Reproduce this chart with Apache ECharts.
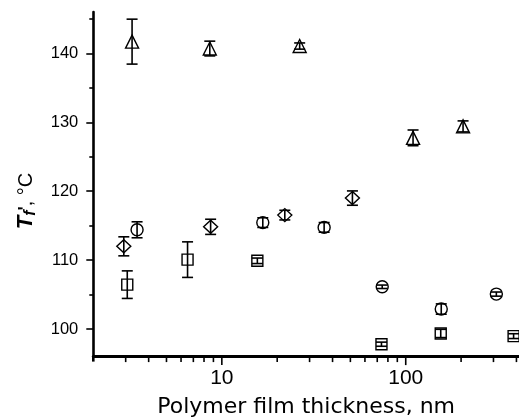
<!DOCTYPE html>
<html>
<head>
<meta charset="utf-8">
<script src="https://cdn.jsdelivr.net/npm/echarts@6/dist/echarts.min.js"></script>
<style>
  html, body { margin: 0; padding: 0; background: #fff; }
  #chart { width: 519px; height: 418px; }
</style>
</head>
<body>
<div id="chart"></div>
<script>
// Film thickness (nm), Tf' (°C) and error half-widths for the four sample sets
const triThickness = [3.25, 8.6, 26.5, 109.6, 205];
const triTf        = [141.7, 140.7, 141.06, 127.74, 129.4];
const triErr       = [3.26, 1.07, 0.45, 1.14, 0.8];

const diaThickness = [2.93, 8.69, 22.0, 51.3];
const diaTf        = [112.0, 114.83, 116.53, 119.0];
const diaErr       = [1.38, 1.1, 0.7, 1.04];

const cirThickness = [3.46, 16.7, 36.0, 74.5, 156, 311];
const cirTf        = [114.4, 115.44, 114.75, 106.13, 102.9, 105.07];
const cirErr       = [1.16, 0.7, 0.7, 0.25, 0.75, 0.3];

const sqThickness  = [3.06, 6.51, 15.6, 73.8, 155, 386];
const sqTf         = [106.44, 110.07, 109.9, 97.8, 99.36, 98.97];
const sqErr        = [2.0, 2.58, 0.4, 0.3, 0.6, 0.35];

// Axis ticks
const xMajorTicks = [10, 100];
const xMinorTicks = [3, 4, 5, 6, 7, 8, 9, 20, 30, 40, 50, 60, 70, 80, 90, 200, 300, 400];
const yMajorTicks = [100, 110, 120, 130, 140];
const yMinorTicks = [105, 115, 125, 135, 145];

const X_MIN = 2, X_MAX = 413, Y_MIN = 96, Y_MAX = 146;
const INK = '#000';

function points(xs, ys) { return xs.map((x, i) => [x, ys[i]]); }
function bars(xs, ys, es) { return xs.map((x, i) => [x, ys[i], es[i]]); }

// Vertical error bar with caps, drawn through the axes' scales
function renderErrorBar(params, api) {
  const x = api.value(0), y = api.value(1), e = api.value(2);
  const top = api.coord([x, y + e]);
  const bot = api.coord([x, y - e]);
  const hw = 5.5;
  const st = { stroke: INK, lineWidth: 1.6 };
  return {
    type: 'group',
    children: [
      { type: 'line', shape: { x1: top[0], y1: top[1], x2: bot[0], y2: bot[1] }, style: st },
      { type: 'line', shape: { x1: top[0] - hw, y1: top[1], x2: top[0] + hw, y2: top[1] }, style: st },
      { type: 'line', shape: { x1: bot[0] - hw, y1: bot[1], x2: bot[0] + hw, y2: bot[1] }, style: st }
    ]
  };
}

function markerSeries(data, symbol, size) {
  return {
    type: 'scatter', data, symbol, symbolSize: size, z: 2,
    itemStyle: { color: '#fff', borderColor: INK, borderWidth: 1.4, opacity: 1 },
    emphasis: { disabled: true }, silent: true
  };
}
function errorSeries(data) {
  return { type: 'custom', data, renderItem: renderErrorBar, z: 3, silent: true };
}

const yTitle = {
  id: 'y-title', type: 'text', x: 26, y: 201, rotation: Math.PI / 2, silent: true,
  style: {
    text: '{t|T}{s|f}{p|\'}{n|, °C}',
    align: 'center', verticalAlign: 'middle',
    rich: {
      t: { fontSize: 22, fontWeight: 'bold', fontStyle: 'italic', fontFamily: 'Liberation Sans', fill: INK, lineHeight: 26 },
      s: { fontSize: 16, fontWeight: 'bold', fontStyle: 'italic', fontFamily: 'Liberation Sans', fill: INK, lineHeight: 26, verticalAlign: 'bottom', padding: [6, 0, 0, 0] },
      p: { fontSize: 18, fontWeight: 'bold', fontFamily: 'Liberation Sans', fill: INK, lineHeight: 26 },
      n: { fontSize: 20, fontFamily: 'Liberation Sans', fill: INK, lineHeight: 26 }
    }
  }
};

const chart = echarts.init(document.getElementById('chart'), null, { renderer: 'canvas' });

chart.setOption({
  animation: false,
  backgroundColor: '#fff',
  grid: { left: 93.3, right: 0, top: 12, bottom: 61.4, containLabel: false, outerBoundsMode: 'none' },
  xAxis: {
    type: 'log', logBase: 10, min: X_MIN, max: X_MAX, position: 'bottom',
    axisLine: { show: true, lineStyle: { color: INK, width: 3 } },
    axisTick: { show: false },
    axisLabel: { customValues: xMajorTicks, color: INK, fontSize: 21, fontFamily: 'Liberation Sans', margin: 11 },
    splitLine: { show: false },
    name: 'Polymer film thickness, nm',
    nameLocation: 'middle', nameGap: 40,
    nameTextStyle: { color: INK, fontSize: 22, fontFamily: 'DejaVu Sans' }
  },
  yAxis: [
    {
      type: 'value', min: Y_MIN, max: Y_MAX, position: 'left',
      axisLine: { show: true, lineStyle: { color: INK, width: 2.6 } },
      axisTick: { show: true, customValues: yMajorTicks, length: 7, lineStyle: { color: INK, width: 1.6 } },
      axisLabel: { customValues: yMajorTicks, color: INK, fontSize: 16.5, fontFamily: 'Liberation Sans', margin: 15 },
      splitLine: { show: false }
    },
    {
      type: 'value', min: Y_MIN, max: Y_MAX, position: 'left',
      axisLine: { show: false },
      axisTick: { show: true, customValues: yMinorTicks, length: 4, lineStyle: { color: INK, width: 1.6 } },
      axisLabel: { show: false },
      splitLine: { show: false }
    }
  ],
  series: [
    markerSeries(points(triThickness, triTf), 'triangle', 13),
    errorSeries(bars(triThickness, triTf, triErr)),
    markerSeries(points(diaThickness, diaTf), 'diamond', [14, 13]),
    errorSeries(bars(diaThickness, diaTf, diaErr)),
    markerSeries(points(cirThickness, cirTf), 'circle', 12),
    errorSeries(bars(cirThickness, cirTf, cirErr)),
    markerSeries(points(sqThickness, sqTf), 'rect', 11),
    errorSeries(bars(sqThickness, sqTf, sqErr))
  ]
});

// Outward tick marks under the logarithmic thickness axis, placed by the axis scale
const axisY = chart.convertToPixel({ yAxisIndex: 0 }, Y_MIN);
const axisX = chart.convertToPixel({ xAxisIndex: 0 }, X_MIN);
function xTick(v, len, i, kind) {
  const px = chart.convertToPixel({ xAxisIndex: 0 }, v);
  return {
    id: 'xtick-' + kind + '-' + i, type: 'rect', silent: true,
    shape: { x: px - 0.8, y: axisY, width: 1.6, height: 1.5 + len },
    style: { fill: INK }
  };
}
chart.setOption({
  graphic: [
    yTitle,
    // short continuation of the temperature axis below the corner
    { id: 'y-foot', type: 'rect', silent: true,
      shape: { x: axisX - 1.3, y: axisY, width: 2.6, height: 5 }, style: { fill: INK } },
    ...xMajorTicks.map((v, i) => xTick(v, 7, i, 'major')),
    ...xMinorTicks.map((v, i) => xTick(v, 4, i, 'minor'))
  ]
});
</script>
</body>
</html>
